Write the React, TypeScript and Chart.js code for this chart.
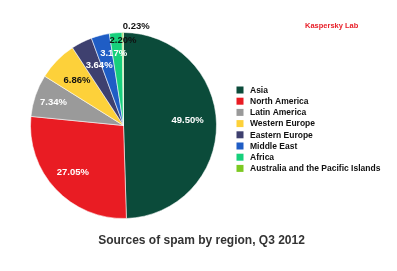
import React, { useEffect, useRef } from "react";
import { Chart, registerables } from "chart.js";

Chart.register(...registerables);

const regions = [
  "Asia",
  "North America",
  "Latin America",
  "Western Europe",
  "Eastern Europe",
  "Middle East",
  "Africa",
  "Australia and the Pacific Islands",
];
const shares = [49.5, 27.05, 7.34, 6.86, 3.64, 3.17, 2.2, 0.23];
const shareLabels = ["49.50%", "27.05%", "7.34%", "6.86%", "3.64%", "3.17%", "2.20%", "0.23%"];
const chartTitle = "Sources of spam by region, Q3 2012";
const brand = "Kaspersky Lab";

const colors = ["#0b4b3a", "#e91c23", "#9a9a9a", "#fdd13a", "#3e406f", "#1f5dc5", "#17d07c", "#7cc922"];
const labelColors = ["#ffffff", "#ffffff", "#ffffff", "#111111", "#ffffff", "#ffffff", "#111111", "#111111"];
const labelRadius = [0.69, 0.745, 0.795, 0.7, 0.715, 0.79, 0.91, 1.065];
const labelShift = [0, 0, 0, 0, 5.5, 8.5, 6.5, 13.5];
const labelLift = [-4, 0, 0.5, 0, -1, -0.5, -0.5, -0.5];

const FONT = "Arial, 'Liberation Sans', sans-serif";

const overlayPlugin = {
  id: "overlay",
  afterDatasetsDraw(chart: any) {
    const ctx = chart.ctx;
    const meta = chart.getDatasetMeta(0);
    ctx.save();
    ctx.font = `bold 9.5px ${FONT}`;
    ctx.textAlign = "center";
    ctx.textBaseline = "middle";
    meta.data.forEach((arc: any, i: number) => {
      const p = arc.getProps(["x", "y", "startAngle", "endAngle", "outerRadius"], true);
      const mid = (p.startAngle + p.endAngle) / 2;
      const d = p.outerRadius * labelRadius[i];
      const x = p.x + Math.cos(mid) * d + labelShift[i];
      const y = p.y + Math.sin(mid) * d + labelLift[i];
      ctx.fillStyle = labelColors[i];
      ctx.fillText(shareLabels[i], x, y);
    });
    ctx.restore();
  },
  afterDraw(chart: any) {
    const ctx = chart.ctx;
    ctx.save();
    // legend
    ctx.font = `bold 8.5px ${FONT}`;
    ctx.textAlign = "left";
    ctx.textBaseline = "middle";
    regions.forEach((name, i) => {
      const y = 90 + i * 11.2;
      ctx.fillStyle = colors[i];
      ctx.fillRect(236.5, y - 3.5, 7, 7);
      ctx.fillStyle = "#111111";
      ctx.fillText(name, 250, y + 0.5);
    });
    // brand
    ctx.font = `bold 7.5px ${FONT}`;
    ctx.fillStyle = "#e8202a";
    ctx.fillText(brand, 305, 25.5);
    // title
    ctx.font = `bold 12px ${FONT}`;
    ctx.textAlign = "center";
    ctx.fillStyle = "#333333";
    ctx.fillText(chartTitle, 201.5, 240.5);
    ctx.restore();
  },
};

export default function App() {
  const ref = useRef<HTMLCanvasElement | null>(null);
  useEffect(() => {
    if (!ref.current) return;
    const chart = new Chart(ref.current, {
      type: "pie",
      data: {
        labels: regions,
        datasets: [
          {
            data: shares,
            backgroundColor: colors,
            borderColor: "rgba(255,255,255,0.55)",
            borderWidth: 1,
          },
        ],
      },
      options: {
        animation: false,
        responsive: false,
        maintainAspectRatio: false,
        layout: { padding: { left: 30, top: 32, right: 180, bottom: 52 } },
        plugins: {
          legend: { display: false },
          tooltip: { enabled: false },
          title: { display: false },
        },
      },
      plugins: [overlayPlugin],
    });
    return () => chart.destroy();
  }, []);
  return (
    <div style={{ position: "absolute", left: 0, top: 0, width: 397, height: 271, background: "#ffffff" }}>
      <canvas ref={ref} width={397} height={271} style={{ display: "block", width: 397, height: 271 }} />
    </div>
  );
}
